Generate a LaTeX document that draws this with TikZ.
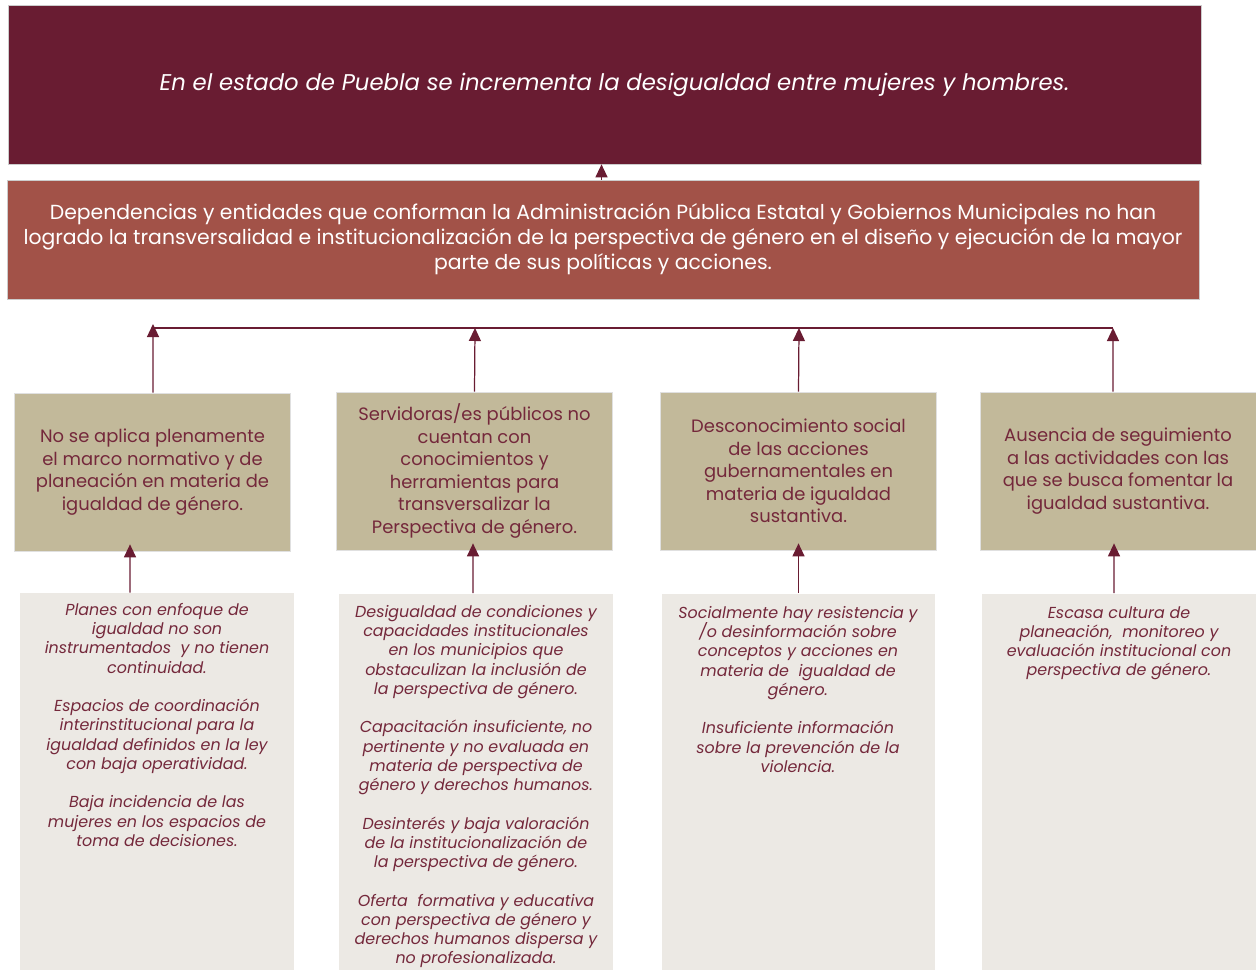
\documentclass[tikz,border=0pt]{standalone}
\usepackage{fontspec}
\setmainfont{Poppins}
\usetikzlibrary{arrows.meta}

\definecolor{guinda}{HTML}{691C32}
\definecolor{ladrillo}{HTML}{A25248}
\definecolor{arena}{HTML}{C2B99A}
\definecolor{hueso}{HTML}{ECE9E4}
\definecolor{letra}{HTML}{74283B}

\tikzset{
  efecto/.style={draw=black!20, fill=guinda, text=white, align=center, inner sep=0pt},
  problema/.style={draw=black!20, fill=ladrillo, text=white, align=center, inner sep=0pt},
  causa/.style={draw=black!12, fill=arena, text=letra, align=center, inner sep=0pt,
    minimum width=5.52cm, minimum height=3.16cm,
    font=\fontsize{10.2}{12.8}\selectfont},
  raiz/.style={fill=hueso, inner sep=0pt, minimum width=5.48cm, minimum height=7.54cm},
  detalle/.style={text=letra, align=center, inner sep=0pt, anchor=north,
    font=\fontsize{9.05}{10.95}\selectfont\itshape},
  flecha/.style={guinda, line width=0.7pt, -{Triangle[length=0.26cm, width=0.24cm]}}
}
\newcommand{\hueco}{\\[10.95pt]}

\begin{document}
\begin{tikzpicture}[x=0.02cm, y=-0.02cm]
\useasboundingbox (0,0) rectangle (1256,970);

\node[efecto, minimum width=23.86cm, minimum height=3.18cm,
  font=\fontsize{12.95}{15}\selectfont\itshape] (t) at (604.5,84.5)
  {\hspace{0.4cm}\raisebox{-0.1cm}{En el estado de Puebla se incrementa la desigualdad entre mujeres y hombres.}};

\node[problema, minimum width=23.84cm, minimum height=2.38cm,
  font=\fontsize{11.6}{14.2}\selectfont] (s) at (603,239.5)
  {Dependencias y entidades que conforman la Administración Pública Estatal y Gobiernos Municipales no han\\
   logrado la transversalidad e institucionalización de la perspectiva de género en el diseño y ejecución de la mayor\\
   parte de sus políticas y acciones.};

\draw[flecha] ([xshift=-0.03cm]s.north) -- ([xshift=-0.03cm]s.north |- t.south);

% causas
\node[causa] (c1) at (152.5,472) {No se aplica plenamente\\ el marco normativo y de\\ planeación en materia de\\ igualdad de género.};
\node[causa] (c2) at (474.5,471) {Servidoras/es públicos no\\ cuentan con\\ conocimientos y\\ herramientas para\\ transversalizar la\\ Perspectiva de género.};
\node[causa] (c3) at (798.5,471) {Desconocimiento social\\ de las acciones\\ gubernamentales en\\ materia de igualdad\\ sustantiva.};
\node[causa] (c4) at (1118,471) {Ausencia de seguimiento\\ a las actividades con las\\ que se busca fomentar la\\ igualdad sustantiva.};

\coordinate (h1) at (153,328);
\coordinate (h2) at (475,328);
\coordinate (h3) at (799,328);
\coordinate (h4) at (1113,328);

\draw[guinda, line width=0.7pt] (h1) -- (h4);
\draw[flecha] ([xshift=0.01cm]c1.north) -- ([yshift=0.08cm]h1);
\draw[flecha] (c2.north) -- (h2);
\draw[flecha] (c3.north) -- (h3);
\draw[flecha] ([xshift=-0.1cm]c4.north) -- (h4);

% causas raiz
\node[raiz] (r1) at (157,781.5) {};
\node[raiz] (r2) at (476,782) {};
\node[raiz] (r3) at (798.5,782) {};
\node[raiz] (r4) at (1119,782) {};

\node[detalle] (d1) at (157,603) {Planes con enfoque de\\ igualdad no son\\ instrumentados\ \ y no tienen\\ continuidad.\hueco
  Espacios de coordinación\\ interinstitucional para la\\ igualdad definidos en la ley\\ con baja operatividad.\hueco
  Baja incidencia de las\\ mujeres en los espacios de\\ toma de decisiones.};
\node[detalle] (d2) at (476,605) {Desigualdad de condiciones y\\ capacidades institucionales\\ en los municipios que\\ obstaculizan la inclusión de\\ la perspectiva de género.\hueco
  Capacitación insuficiente, no\\ pertinente y no evaluada en\\ materia de perspectiva de\\ género y derechos humanos.\hueco
  Desinterés y baja valoración\\ de la institucionalización de\\ la perspectiva de género.\hueco
  Oferta\ \ formativa y educativa\\ con perspectiva de género y\\ derechos humanos dispersa y\\ no profesionalizada.};
\node[detalle] (d3) at (798,606) {Socialmente hay resistencia y\\ /o desinformación sobre\\ conceptos y acciones en\\ materia de\ \ igualdad de\\ género.\hueco
  Insuficiente información\\ sobre la prevención de la\\ violencia.};
\node[detalle] (d4) at (1119,606) {Escasa cultura de\\ planeación,\ \ monitoreo y\\ evaluación institucional con\\ perspectiva de género.};

\draw[flecha] ([xshift=-0.54cm]r1.north) -- ([xshift=-0.45cm,yshift=0.14cm]c1.south);
\draw[flecha] ([xshift=-0.06cm]r2.north) -- ([xshift=-0.03cm,yshift=0.14cm]c2.south);
\draw[flecha] (r3.north) -- ([yshift=0.14cm]c3.south);
\draw[flecha] ([xshift=-0.1cm]r4.north) -- ([xshift=-0.08cm,yshift=0.14cm]c4.south);

\end{tikzpicture}
\end{document}
